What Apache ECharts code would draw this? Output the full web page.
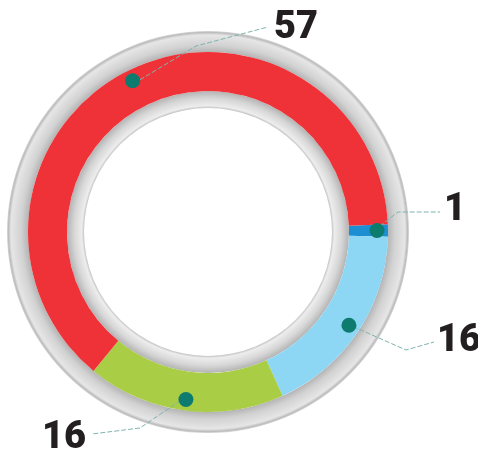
<!DOCTYPE html>
<html>
<head>
<meta charset="utf-8">
<script src="https://cdn.jsdelivr.net/npm/echarts@6/dist/echarts.min.js"></script>
<style>
  html, body { margin: 0; padding: 0; background: #fff; }
  #chart { width: 478px; height: 457px; }
</style>
</head>
<body>
<div id="chart"></div>
<script>
// values, in clockwise order from the right side
var names = ['A', 'B', 'C', 'D'];
var values = [1, 16, 16, 57];

// styling / layout
var colors = ['#1b8fd2', '#8dd6f4', '#a9cd45', '#ee3238'];
var center = [208, 232];
var startAngle = 2.5;
var dotRadius = 166;
// where each value label sits, and the bend of its leader line
var labelSpots = [
  { x: 444, y: 210, align: 'left', bend: [398, 212], end: [440, 212] },
  { x: 437, y: 341, align: 'left', bend: [406, 350], end: [434, 342] },
  { x: 86, y: 438, align: 'right', bend: [140, 428], end: [92, 434] },
  { x: 274, y: 28, align: 'left', bend: [196, 46], end: [268, 27] }
];

var myChart = echarts.init(document.getElementById('chart'));

var total = 0;
for (var k = 0; k < values.length; k++) total += values[k];

// point on the ring (at the dots) in the middle of slice i
function midPoint(i) {
  var before = 0;
  for (var n = 0; n < i; n++) before += values[n];
  var ang = (startAngle - (before + values[i] / 2) / total * 360) * Math.PI / 180;
  return [center[0] + Math.cos(ang) * dotRadius, center[1] - Math.sin(ang) * dotRadius];
}

var seriesData = [];
for (var i = 0; i < values.length; i++) {
  seriesData.push({ name: names[i], value: values[i], itemStyle: { color: colors[i] } });
}
var ghostData = [];
for (var j = 0; j < values.length; j++) {
  ghostData.push({ name: names[j], value: values[j] });
}

var option = {
  animation: false,
  series: [
    // outer gray ring
    {
      type: 'pie', silent: true, z: 1, center: center, radius: [180, 201],
      label: { show: false }, labelLine: { show: false },
      data: [{ value: 1, itemStyle: { color: {
        type: 'radial', x: center[0], y: center[1], r: 201, global: true,
        colorStops: [
          { offset: 0.895, color: '#b4b4b4' },
          { offset: 0.93, color: '#d2d2d2' },
          { offset: 0.98, color: '#e6e6e6' },
          { offset: 0.993, color: '#bcbcbc' },
          { offset: 1, color: '#d8d8d8' }
        ] } } }]
    },
    // inner gray ring
    {
      type: 'pie', silent: true, z: 1, center: center, radius: [124, 141],
      label: { show: false }, labelLine: { show: false },
      data: [{ value: 1, itemStyle: { color: {
        type: 'radial', x: center[0], y: center[1], r: 141, global: true,
        colorStops: [
          { offset: 0.879, color: '#c4c4c4' },
          { offset: 0.895, color: '#ededed' },
          { offset: 0.95, color: '#d6d6d6' },
          { offset: 1, color: '#b3b3b3' }
        ] } } }]
    },
    // coloured ring
    {
      type: 'pie', silent: true, z: 2, center: center, radius: [141, 180],
      startAngle: startAngle, clockwise: true,
      label: { show: false }, labelLine: { show: false },
      data: seriesData
    },
    // value labels with leader lines
    {
      type: 'pie', silent: true, z: 5, center: center, radius: [141, 166],
      startAngle: startAngle, clockwise: true,
      itemStyle: { color: 'rgba(0,0,0,0)' },
      label: {
        show: true, position: 'outside',
        formatter: '{c}',
        fontFamily: 'Roboto', fontWeight: 900, fontSize: 38, color: '#231f20'
      },
      labelLine: {
        show: true, length: 20, length2: 20,
        lineStyle: { color: '#7fb4ad', width: 1, type: [5, 2] }
      },
      labelLayout: function (params) {
        var s = labelSpots[params.dataIndex];
        return {
          x: s.x, y: s.y, align: s.align, verticalAlign: 'middle',
          labelLinePoints: [midPoint(params.dataIndex), s.bend, s.end]
        };
      },
      data: ghostData
    },
    // dots on the ring
    {
      type: 'pie', silent: true, z: 6, center: center, radius: [dotRadius - 8, dotRadius + 8],
      startAngle: startAngle, clockwise: true,
      itemStyle: { color: 'rgba(0,0,0,0)' },
      label: {
        show: true, position: 'inside', formatter: ' ',
        width: 15, height: 15, borderRadius: 7.5, padding: 0,
        backgroundColor: '#0e7b6f', fontSize: 1
      },
      labelLine: { show: false },
      data: ghostData
    }
  ]
};

myChart.setOption(option);
</script>
</body>
</html>
